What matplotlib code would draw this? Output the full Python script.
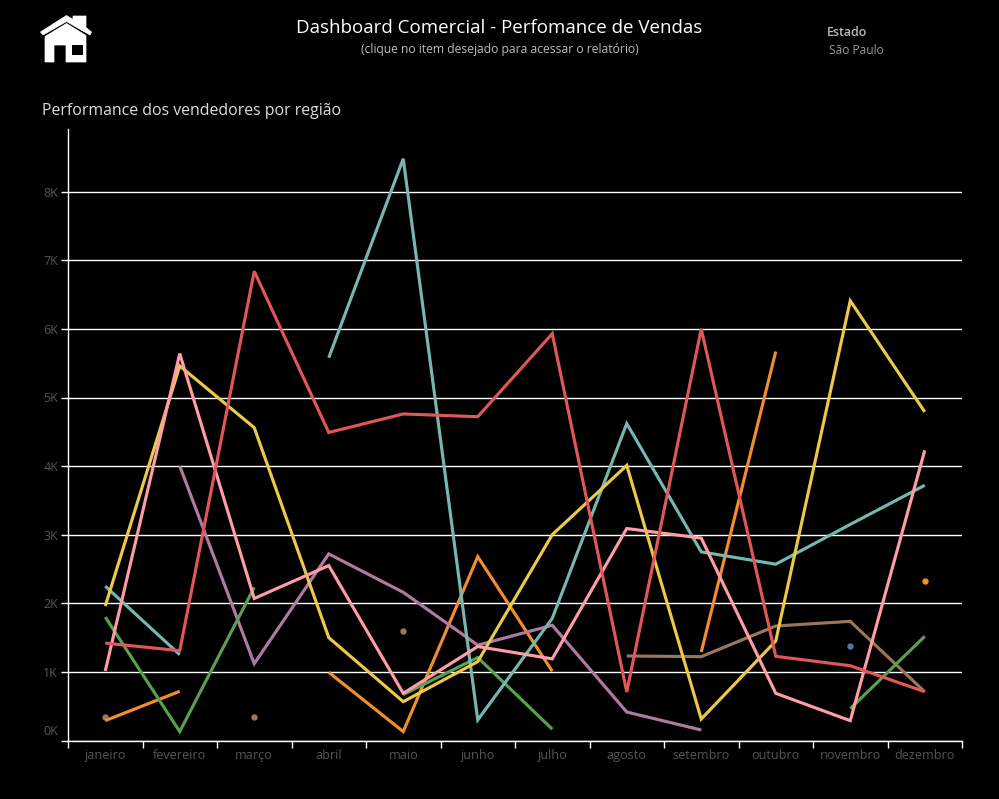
#!/usr/bin/env python3
import numpy as np
import matplotlib
matplotlib.use('Agg')
import matplotlib.pyplot as plt
from matplotlib.patches import Polygon, Rectangle
from matplotlib.transforms import ScaledTranslation

nan = np.nan
W, H = 999, 799

plt.rcParams['font.family'] = ['Open Sans', 'DejaVu Sans']

months = ['janeiro', 'fevereiro', 'março', 'abril', 'maio', 'junho', 'julho',
          'agosto', 'setembro', 'outubro', 'novembro', 'dezembro']
ytick_vals = [0, 1000, 2000, 3000, 4000, 5000, 6000, 7000, 8000]
ytick_labels = ['0K', '1K', '2K', '3K', '4K', '5K', '6K', '7K', '8K']

blue = [nan, nan, nan, nan, nan, nan, nan, nan, nan, nan, 1375, nan]
brown = [347, nan, 347, nan, 1590, nan, nan, 1232, 1222, 1669, 1737, 710]
orange = [290, 717, nan, 994, 130, 2680, 1010, nan, 1290, 5670, nan, 2320]
green = [1800, 130, 2233, nan, 670, 1210, 165, nan, nan, nan, 464, 1519]
purple = [nan, 4000, 1120, 2720, 2160, 1390, 1680, 415, 153, nan, nan, nan]
teal = [2250, 1250, nan, 5580, 8480, 300, 1780, 4620, 2750, 2570, 3150, 3720]
yellow = [1960, 5460, 4560, 1500, 566, 1150, 3000, 4010, 313, 1450, 6410, 4790]
pink = [1013, 5640, 2070, 2550, 688, 1370, 1190, 3090, 2950, 688, 289, 4230]
red = [1420, 1309, 6840, 4490, 4760, 4720, 5930, 707, 6000, 1227, 1090, 711]

series = [(blue, '#4E79A7'), (brown, '#9C755F'), (orange, '#F28E2B'),
          (purple, '#B07AA1'), (green, '#59A14F'), (teal, '#76B7B2'),
          (yellow, '#EDC948'), (pink, '#FF9DA7'), (red, '#E15759')]

fig = plt.figure(figsize=(W / 100, H / 100), dpi=100, facecolor='black')

# plot area in pixels: x 68-962, y 129-740.5
ax = fig.add_axes([68 / W, 1 - 740.5 / H, (962 - 68) / W, (740.5 - 129) / H])
ax.set_facecolor('black')
ax.set_xlim(0, 12)
ax.set_ylim(0, (740.5 - 129) / 68.6 * 1000)

x = np.arange(12) + 0.5
for vals, color in series:
    y = np.array(vals, dtype=float)
    ax.plot(x, y, color=color, lw=2.25, solid_joinstyle='miter', solid_capstyle='butt',
            zorder=3, clip_on=False)
    # months with no neighbour on either side are single dots
    for i in range(12):
        left = y[i - 1] if i > 0 else nan
        right = y[i + 1] if i < 11 else nan
        if not np.isnan(y[i]) and np.isnan(left) and np.isnan(right):
            ax.plot(x[i], y[i], 'o', color=color, ms=4.6, mew=0, zorder=3)

ax.set_yticks(ytick_vals)
ax.set_yticklabels(ytick_labels, color='#555555', fontsize=9)
ax.tick_params(axis='y', length=5, width=1, color='white', pad=2)
zero_label = ax.get_yticklabels()[0]
zero_label.set_verticalalignment('bottom')
zero_label.set_transform(zero_label.get_transform() + ScaledTranslation(0, 2 / 72, fig.dpi_scale_trans))
ax.set_xticks(np.arange(13))
ax.set_xticklabels([])
ax.set_xticks(x, minor=True)
ax.set_xticklabels(months, minor=True, color='#555555', fontsize=9.1)
ax.tick_params(axis='x', which='major', length=5, width=1, color='white')
ax.tick_params(axis='x', which='minor', length=0, pad=6)
ax.grid(True, axis='y', color='white', lw=1, zorder=1)
ax.set_axisbelow(True)
for side in ['top', 'right']:
    ax.spines[side].set_visible(False)
for side in ['left', 'bottom']:
    ax.spines[side].set_color('white')
    ax.spines[side].set_linewidth(1)

# overlay in pixel coordinates for the header and the house icon
ov = fig.add_axes([0, 0, 1, 1], facecolor='none')
ov.set_xlim(0, W)
ov.set_ylim(H, 0)
ov.axis('off')

ov.text(499.5, 28, 'Dashboard Comercial - Perfomance de Vendas', color='white',
        fontsize=13.5, ha='center', va='center')
ov.text(499.5, 49, '(clique no item desejado para acessar o relatório)', color='#bbbbbb',
        fontsize=8.7, ha='center', va='center')
ov.text(827, 33, 'Estado', color='#bbbbbb', fontsize=8.9, fontweight='semibold',
        ha='left', va='center')
ov.text(829, 50, 'São Paulo', color='#999999', fontsize=8.6, ha='left', va='center')
ov.text(42, 111, 'Performance dos vendedores por região', color='#dddddd',
        fontsize=11.45, ha='left', va='center')

# house icon
ov.add_patch(Polygon([(40.5, 32), (66.5, 15.5), (73, 19.5), (73, 16), (86, 16), (86, 27.5), (91.5, 32),
                      (90, 35), (66.5, 21.5), (43, 35)], closed=True, fc='white', ec='white', lw=0.5,
                     joinstyle='round'))
ov.add_patch(Polygon([(45, 36.5), (66.5, 23.5), (86, 35.5), (86, 62), (66, 62), (66, 45), (54, 45),
                      (54, 62), (45, 62)], closed=True, fc='white', ec='white', lw=0.5,
                     joinstyle='round'))
ov.add_patch(Rectangle((72, 45), 11, 10.3, color='black', lw=0))

fig.savefig('out.png', dpi=100, facecolor='black')
